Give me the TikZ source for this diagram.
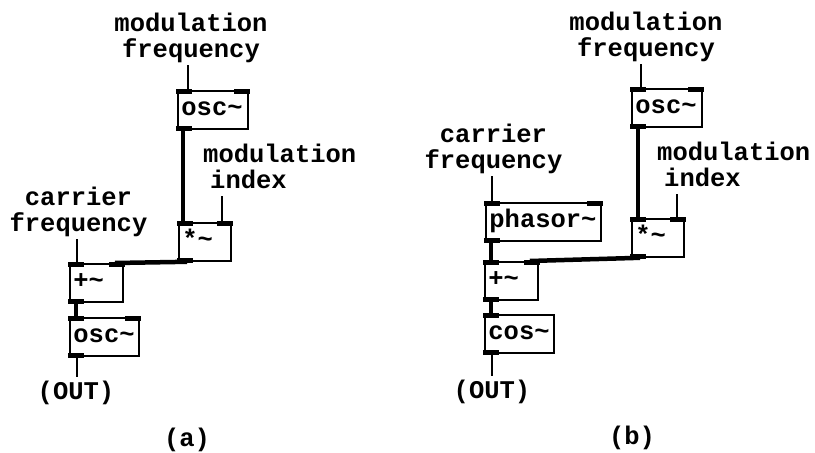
\documentclass[tikz,border=0pt]{standalone}
\usepackage{fontspec}
\setmonofont{Liberation Mono}
\usetikzlibrary{calc}
\newcommand\pdtxt{\fontsize{25.5pt}{26pt}\selectfont\ttfamily\bfseries}
\newcommand\pdtl{\textasciitilde}
\newcommand\pdinl[1]{\fill ([shift={(-0.9,-0.9)}]#1.north west) rectangle ++(16,5);}
\newcommand\pdinr[1]{\fill ([shift={(0.9,-0.9)}]#1.north east) rectangle ++(-16,5);}
\newcommand\pdoutl[1]{\fill ([shift={(-0.9,0.9)}]#1.south west) rectangle ++(16,-5);}
\begin{document}
\begin{tikzpicture}[x=1pt,y=-1pt,
  pdbox/.style={draw, line width=1.8pt, anchor=north west, minimum height=38pt,
    inner xsep=3.5pt, inner ysep=0pt, text width=#1, align=left,
    text height=11pt, text depth=0pt, font=\pdtxt},
  lbl/.style={font=\pdtxt, inner sep=2pt, text height=20pt, text depth=6pt, anchor=base},
  sig/.style={line width=4.5pt},
  ctl/.style={line width=1.6pt}]
\useasboundingbox (0,0) rectangle (815,453);

% ---------- (a) ----------
\node[pdbox=63pt] (oscA1) at (177,90) {osc\pdtl};
\node[pdbox=45pt] (mulA) at (178,222) {*\pdtl};
\node[pdbox=46pt] (addA) at (69,263) {+\pdtl};
\node[pdbox=62pt] (oscA2) at (69,317) {osc\pdtl};

\node[lbl] (mfA1) at (191,31) {modulation};
\node[lbl] (mfA2) at (191,57) {frequency};
\node[lbl, anchor=base west] (miA1) at (201,162) {modulation};
\node[lbl, anchor=base west] (miA2) at (208,188) {index};
\node[lbl] (cfA1) at (78.5,205) {carrier};
\node[lbl] (cfA2) at (78.5,231) {frequency};
\node[lbl] (outA) at (76,399) {(OUT)};
\node[lbl] (capA) at (187,446) {(a)};

\coordinate (pA1) at ($(oscA1.north west)+(11,0)$);
\draw[ctl] (pA1 |- mfA2.south) -- (pA1);
\coordinate (pA2) at ($(mulA.north east)+(-10,0)$);
\draw[ctl] (pA2 |- miA2.south) -- (pA2);
\coordinate (pA3) at ($(addA.north west)+(8,0)$);
\draw[ctl] (pA3 |- cfA2.south) -- (pA3);
\coordinate (pA4) at ($(oscA2.south west)+(8,0)$);
\draw[ctl] (pA4) -- (pA4 |- outA.north);
\coordinate (sA1) at ($(oscA1.south west)+(6,0)$);
\draw[sig] (sA1) -- (sA1 |- mulA.north);
\coordinate (sA2) at ($(addA.south west)+(7,0)$);
\draw[sig] (sA2) -- (sA2 |- oscA2.north);
\draw[sig] ($(mulA.south west)+(9,0)$) -- ($(addA.north east)+(-9,0)$);

\pdinl{oscA1}\pdinr{oscA1}\pdoutl{oscA1}
\pdinl{mulA}\pdinr{mulA}\pdoutl{mulA}
\pdinl{addA}\pdinr{addA}\pdoutl{addA}
\pdinl{oscA2}\pdinr{oscA2}\pdoutl{oscA2}

% ---------- (b) ----------
\node[pdbox=63pt] (oscB) at (631,88) {osc\pdtl};
\node[pdbox=45pt] (mulB) at (631,218) {*\pdtl};
\node[pdbox=108pt] (phas) at (485,202) {phasor\pdtl};
\node[pdbox=46pt] (addB) at (484,261) {+\pdtl};
\node[pdbox=62pt] (cosB) at (484,314) {cos\pdtl};

\node[lbl] (mfB1) at (646,30) {modulation};
\node[lbl] (mfB2) at (646,56) {frequency};
\node[lbl, anchor=base west] (miB1) at (655,160) {modulation};
\node[lbl, anchor=base west] (miB2) at (662,186) {index};
\node[lbl] (cfB1) at (493.5,142) {carrier};
\node[lbl] (cfB2) at (493.5,168) {frequency};
\node[lbl] (outB) at (492,398) {(OUT)};
\node[lbl] (capB) at (632,444) {(b)};

\coordinate (pB1) at ($(oscB.north west)+(10,0)$);
\draw[ctl] (pB1 |- mfB2.south) -- (pB1);
\coordinate (pB2) at ($(mulB.north east)+(-8,0)$);
\draw[ctl] (pB2 |- miB2.south) -- (pB2);
\coordinate (pB3) at ($(phas.north west)+(7,0)$);
\draw[ctl] (pB3 |- cfB2.south) -- (pB3);
\coordinate (pB4) at ($(cosB.south west)+(8,0)$);
\draw[ctl] (pB4) -- (pB4 |- outB.north);
\coordinate (sB1) at ($(oscB.south west)+(7,0)$);
\draw[sig] (sB1) -- (sB1 |- mulB.north);
\coordinate (sB2) at ($(phas.south west)+(6,0)$);
\draw[sig] (sB2) -- (sB2 |- addB.north);
\coordinate (sB3) at ($(addB.south west)+(7,0)$);
\draw[sig] (sB3) -- (sB3 |- cosB.north);
\draw[sig] ($(mulB.south west)+(9,0)$) -- ($(addB.north east)+(-9,0)$);

\pdinl{oscB}\pdinr{oscB}\pdoutl{oscB}
\pdinl{mulB}\pdinr{mulB}\pdoutl{mulB}
\pdinl{phas}\pdinr{phas}\pdoutl{phas}
\pdinl{addB}\pdinr{addB}\pdoutl{addB}
\pdinl{cosB}\pdoutl{cosB}
\end{tikzpicture}
\end{document}
